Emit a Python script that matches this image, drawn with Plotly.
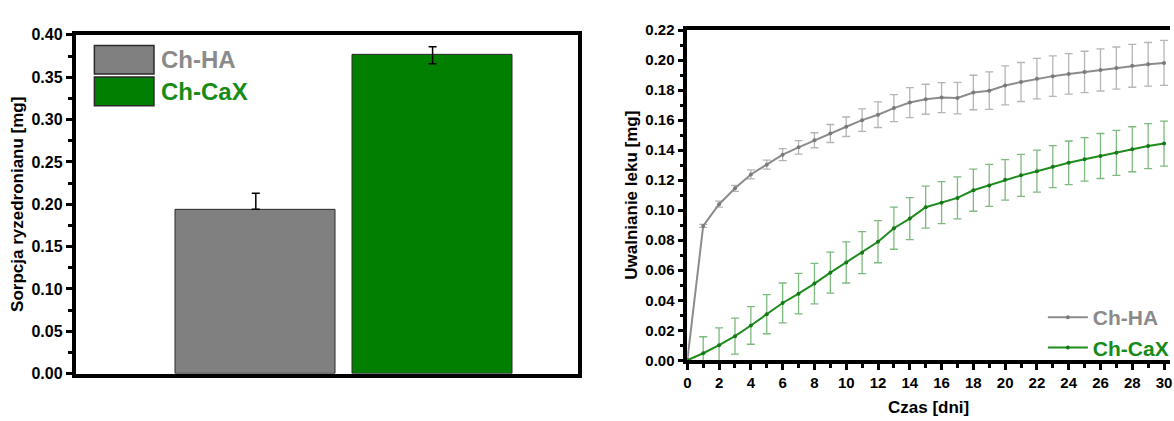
import plotly.graph_objects as go

# ---------------- data ----------------
samples = ["Ch-HA", "Ch-CaX"]
sorption = [0.194, 0.376]
sorption_err_plus = [0.019, 0.010]
sorption_err_minus = [0.0, 0.010]

days = list(range(0, 31))
release_ha = [0.000, 0.0895, 0.104, 0.1146, 0.1238, 0.1303, 0.137, 0.1419, 0.1466, 0.1511,
              0.1556, 0.160, 0.1636, 0.168, 0.1717, 0.1739, 0.175, 0.1747, 0.1784, 0.1796,
              0.1831, 0.1854, 0.1876, 0.1893, 0.1908, 0.1921, 0.1934, 0.1947, 0.1962, 0.1972,
              0.1981]
release_ha_err = [0.0, 0.001, 0.002, 0.002, 0.003, 0.003, 0.004, 0.0045, 0.005, 0.006,
                  0.0065, 0.0075, 0.0085, 0.009, 0.010, 0.010, 0.010, 0.0105, 0.0115, 0.0125,
                  0.013, 0.013, 0.0135, 0.0135, 0.0135, 0.0138, 0.014, 0.014, 0.0143, 0.0145,
                  0.015]
release_cax = [0.000, 0.0047, 0.0101, 0.0161, 0.0232, 0.0307, 0.0382, 0.0444, 0.0511, 0.0584,
               0.0652, 0.0717, 0.079, 0.088, 0.0944, 0.102, 0.105, 0.1082, 0.1133, 0.1165,
               0.1202, 0.1232, 0.126, 0.129, 0.1316, 0.1339, 0.1361, 0.1382, 0.1406, 0.1427,
               0.1444]
release_cax_err = [0.0, 0.011, 0.0115, 0.012, 0.0125, 0.013, 0.0133, 0.0135, 0.0135, 0.0137,
                   0.0137, 0.014, 0.014, 0.014, 0.014, 0.014, 0.014, 0.014, 0.014, 0.014,
                   0.0135, 0.014, 0.014, 0.014, 0.0145, 0.0145, 0.015, 0.015, 0.015, 0.015,
                   0.015]

left_ytitle = "Sorpcja ryzedronianu [mg]"
right_ytitle = "Uwalnianie leku [mg]"
right_xtitle = "Czas [dni]"

# ---------------- style ----------------
FONT = "Arial, 'Liberation Sans', sans-serif"
GREY = "#808080"
GREEN = "#007f00"
GREY_TXT = "#8a8a8a"
GREEN_TXT = "#168c16"
W, H = 1174, 421

def px_x(p):
    return p / W

def px_y(p):
    return 1 - p / H

fig = go.Figure()

# ---- left: bar chart ----
fig.add_trace(go.Bar(
    x=samples, y=sorption, width=0.904,
    marker=dict(color=[GREY, GREEN], line=dict(color="#2a2a2a", width=1)),
    error_y=dict(type="data", array=sorption_err_plus, arrayminus=sorption_err_minus,
                 symmetric=False, color="black", thickness=1.5, width=4),
    xaxis="x", yaxis="y", showlegend=False,
))

# ---- right: release curves ----
fig.add_trace(go.Scatter(
    x=days, y=release_ha, mode="lines+markers",
    name=f"<span style='color:{GREY_TXT}'>{samples[0]}</span>",
    line=dict(color="#8c8c8c", width=2), marker=dict(size=4, color="#7a7a7a"),
    error_y=dict(type="data", array=release_ha_err, color="#b5b5b5", thickness=1.3, width=4),
    xaxis="x2", yaxis="y2", legend="legend2",
))
fig.add_trace(go.Scatter(
    x=days, y=release_cax, mode="lines+markers",
    name=f"<span style='color:{GREEN_TXT}'>{samples[1]}</span>",
    line=dict(color="#1e8c1e", width=2), marker=dict(size=4, color="#147a14"),
    error_y=dict(type="data", array=release_cax_err, color="#7dba7d", thickness=1.3, width=4),
    xaxis="x2", yaxis="y2", legend="legend2",
))

tickfont_l = dict(family=FONT, size=16, color="black", weight="bold")
tickfont_r = dict(family=FONT, size=15, color="black", weight="bold")
titlefont = dict(family=FONT, size=17, color="black", weight="bold")

fig.update_layout(
    width=W, height=H,
    margin=dict(l=0, r=0, t=0, b=0),
    paper_bgcolor="white", plot_bgcolor="white",
    bargap=0,
    xaxis=dict(domain=[px_x(72), px_x(578)], anchor="y", type="category",
               range=[-1.02, 1.823], showticklabels=False, ticks="",
               showline=True, linecolor="black", linewidth=3.5, mirror=True,
               showgrid=False, zeroline=False),
    yaxis=dict(domain=[px_y(381), px_y(27)], anchor="x", range=[0, 0.40],
               tickmode="array", tickvals=[i * 0.05 for i in range(9)],
               ticktext=[f"{i * 0.05:.2f}" for i in range(9)],
               ticks="outside", ticklen=6, tickwidth=2.5, tickcolor="black",
               minor=dict(dtick=0.025, ticks="outside", ticklen=4, tickwidth=2.5, tickcolor="black"),
               showline=True, linecolor="black", linewidth=3.5, mirror=True,
               showgrid=False, zeroline=False, tickfont=tickfont_l,
               title=dict(text=left_ytitle, font=titlefont, standoff=4)),
    xaxis2=dict(domain=[px_x(688), 1.0], anchor="y2", range=[0, 30.375],
                tickmode="linear", tick0=0, dtick=2, ticklabeloverflow="allow",
                ticks="outside", ticklen=6, tickwidth=2.5, tickcolor="black",
                minor=dict(dtick=1, ticks="outside", ticklen=4, tickwidth=2.5, tickcolor="black"),
                showline=True, linecolor="black", linewidth=3.5, mirror=True,
                showgrid=False, zeroline=False, tickfont=tickfont_r,
                title=dict(text=right_xtitle, font=titlefont, standoff=12)),
    yaxis2=dict(domain=[px_y(367), px_y(22)], anchor="x2", range=[0, 0.22],
                tickmode="array", tickvals=[i * 0.02 for i in range(12)],
                ticktext=[f"{i * 0.02:.2f}" for i in range(12)],
                ticks="outside", ticklen=6, tickwidth=2.5, tickcolor="black",
                minor=dict(dtick=0.01, ticks="outside", ticklen=4, tickwidth=2.5, tickcolor="black"),
                showline=True, linecolor="black", linewidth=3.5, mirror=False,
                showgrid=False, zeroline=False, tickfont=tickfont_r,
                title=dict(text=right_ytitle, font=titlefont, standoff=4)),
    legend2=dict(x=px_x(1046), y=px_y(301), xanchor="left", yanchor="top",
                 bgcolor="rgba(0,0,0,0)", borderwidth=0,
                 font=dict(family=FONT, size=21, weight="bold"),
                 itemwidth=40, tracegroupgap=0),
    showlegend=True,
)

# ---- left legend (large swatches as in the original) ----
legend_items = [(samples[0], GREY, GREY_TXT, 38, 68), (samples[1], GREEN, GREEN_TXT, 71, 101)]
for label, fill, txt, y0, y1 in legend_items:
    fig.add_shape(type="rect", xref="paper", yref="paper",
                  x0=px_x(91), x1=px_x(151), y0=px_y(y1), y1=px_y(y0),
                  fillcolor=fill, line=dict(color="#2a2a2a", width=1.5))
    fig.add_annotation(xref="paper", yref="paper", x=px_x(156), y=px_y((y0 + y1) / 2),
                       xanchor="left", yanchor="middle", showarrow=False,
                       text=label, font=dict(family=FONT, size=24, color=txt, weight="bold"))

fig.write_html("out.html")
